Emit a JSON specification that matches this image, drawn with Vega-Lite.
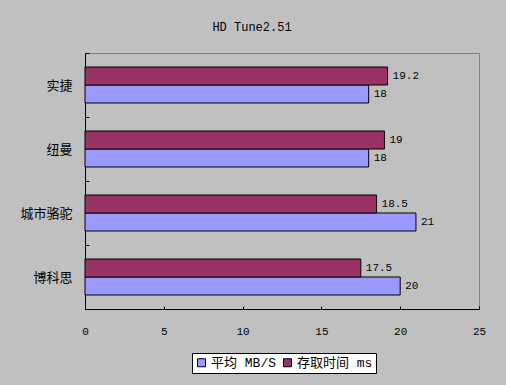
{
  "$schema": "https://vega.github.io/schema/vega-lite/v6.json",
  "width": 394,
  "height": 256,
  "autosize": {"type": "none"},
  "padding": {"left": 85, "top": 53, "right": 27, "bottom": 76},
  "background": "#C0C0C0",
  "title": {"text": "HD Tune2.51", "fontSize": 12, "font": "Liberation Mono", "fontWeight": "normal", "color": "black", "offset": 13, "dx": -30, "anchor": "middle"},
  "data": {"values": [
    {"brand": "实捷", "series": "平均 MB/S", "value": 18},
    {"brand": "实捷", "series": "存取时间 ms", "value": 19.2},
    {"brand": "纽曼", "series": "平均 MB/S", "value": 18},
    {"brand": "纽曼", "series": "存取时间 ms", "value": 19},
    {"brand": "城市骆驼", "series": "平均 MB/S", "value": 21},
    {"brand": "城市骆驼", "series": "存取时间 ms", "value": 18.5},
    {"brand": "博科思", "series": "平均 MB/S", "value": 20},
    {"brand": "博科思", "series": "存取时间 ms", "value": 17.5}
  ]},
  "encoding": {
    "y": {"field": "brand", "type": "nominal", "sort": ["实捷", "纽曼", "城市骆驼", "博科思"],
      "scale": {"paddingInner": 0, "paddingOuter": 0},
      "axis": {"title": null, "tickBand": "extent", "tickSize": -4, "labelPadding": 17, "labelFont": "Noto Sans CJK SC", "labelFontSize": 13}},
    "yOffset": {"field": "series", "type": "nominal", "sort": ["存取时间 ms", "平均 MB/S"], "scale": {"paddingInner": 0, "paddingOuter": 0.778}},
    "x": {"field": "value", "type": "quantitative", "scale": {"domain": [0, 25]},
      "axis": {"title": null, "values": [0, 5, 10, 15, 20, 25], "grid": false, "tickSize": -3, "labelPadding": 19, "labelFlush": false, "labelFont": "Liberation Mono", "labelFontSize": 11}}
  },
  "layer": [
    {"mark": {"type": "bar", "stroke": "black", "strokeWidth": 1},
     "encoding": {"color": {"field": "series", "type": "nominal",
       "scale": {"domain": ["平均 MB/S", "存取时间 ms"], "range": ["#9999FF", "#993366"]},
       "legend": {"orient": "none", "legendX": 107, "legendY": 300, "direction": "horizontal", "title": null,
         "fillColor": "white", "strokeColor": "black", "padding": 3, "symbolType": "square", "symbolSize": 64,
         "symbolStrokeColor": "black", "symbolStrokeWidth": 1, "symbolOpacity": 1, "labelFontSize": 13, "labelColor": "black",
         "labelFont": "Liberation Mono, Noto Sans CJK SC", "columnPadding": 4, "labelOffset": 3}}}},
    {"mark": {"type": "text", "align": "left", "dx": 5, "baseline": "middle", "font": "Liberation Mono", "fontSize": 11, "color": "black"},
     "encoding": {"text": {"field": "value"}}}
  ],
  "config": {
    "view": {"stroke": "#808080", "fill": null},
    "axis": {"domainColor": "black", "tickColor": "black", "labelColor": "black", "domainWidth": 1, "tickWidth": 1}
  }
}
